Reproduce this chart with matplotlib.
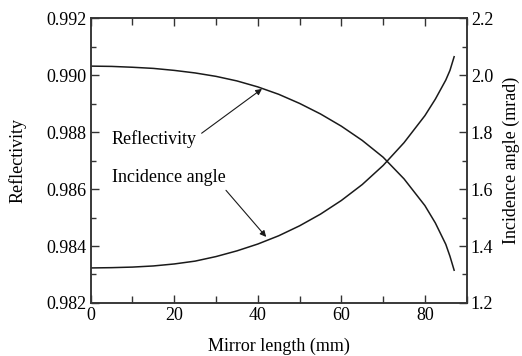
import matplotlib
matplotlib.use('Agg')
import matplotlib.pyplot as plt
from matplotlib.ticker import MultipleLocator

# mirror length (mm)
length = [0, 5, 10, 15, 20, 25, 30, 35, 40, 45, 50, 55, 60, 65, 70, 75, 80, 82.5, 85, 86, 87]
# reflectivity (left axis)
reflectivity = [0.99032, 0.99031, 0.99028, 0.99024, 0.99017, 0.99008, 0.98996, 0.98980,
                0.98959, 0.98933, 0.98901, 0.98864, 0.98821, 0.98771, 0.98712, 0.98636,
                0.98542, 0.98481, 0.98406, 0.98364, 0.98315]
# incidence angle in mrad (right axis)
incidence = [1.323, 1.324, 1.326, 1.330, 1.337, 1.347, 1.363, 1.383, 1.407, 1.436,
             1.471, 1.512, 1.560, 1.616, 1.683, 1.763, 1.858, 1.916, 1.983, 2.017, 2.065]

plt.rcParams['font.family'] = ['Liberation Serif', 'DejaVu Serif']
plt.rcParams['font.size'] = 13

fig = plt.figure(figsize=(5.22, 3.56), dpi=100)
ax = fig.add_axes([0.1738, 0.149, 0.7202, 0.7996])
ax2 = ax.twinx()

ax.plot(length, reflectivity, color='#1a1a1a', lw=1.1)
ax2.plot(length, incidence, color='#1a1a1a', lw=1.1)

ax.set_xlim(0, 90)
ax.set_ylim(0.982, 0.992)
ax2.set_ylim(1.2, 2.2)

ax.xaxis.set_major_locator(MultipleLocator(20))
ax.xaxis.set_minor_locator(MultipleLocator(10))
ax.yaxis.set_major_locator(MultipleLocator(0.002))
ax.yaxis.set_minor_locator(MultipleLocator(0.001))
ax.yaxis.set_major_formatter(plt.FormatStrFormatter('%.3f'))
ax2.yaxis.set_major_locator(MultipleLocator(0.2))
ax2.yaxis.set_minor_locator(MultipleLocator(0.1))
ax2.yaxis.set_major_formatter(plt.FormatStrFormatter('%.1f'))

ax.tick_params(which='both', direction='in', top=True, right=False, width=1, color='#333333', pad=3)
ax.tick_params(which='major', length=6)
ax.tick_params(which='minor', length=3.5)
ax.tick_params(axis='x', which='minor', length=5)
ax2.tick_params(which='both', direction='in', width=1, color='#333333', pad=3)
ax2.tick_params(which='major', length=6)
ax2.tick_params(which='minor', length=3.5)

for a in (ax, ax2):
    for s in a.spines.values():
        s.set_linewidth(1.1)
        s.set_color('#333333')

ax.set_xlabel('Mirror length (mm)', labelpad=10)
ax.set_ylabel('Reflectivity', labelpad=14)
ax2.set_ylabel('Incidence angle (mrad)', labelpad=7)

ax.annotate('Reflectivity', xy=(41, 0.98952), xytext=(5, 0.98777),
            ha='left', va='center',
            arrowprops=dict(arrowstyle='-|>', lw=0.8, color='#1a1a1a',
                            mutation_scale=9, relpos=(1, 0.6), shrinkA=2, shrinkB=0))
ax2.annotate('Incidence angle', xy=(42, 1.432), xytext=(5, 1.639),
             ha='left', va='center',
             arrowprops=dict(arrowstyle='-|>', lw=0.8, color='#1a1a1a',
                             mutation_scale=9, relpos=(0.97, 0.05), shrinkA=1, shrinkB=0))

fig.savefig('out.png', dpi=100)
